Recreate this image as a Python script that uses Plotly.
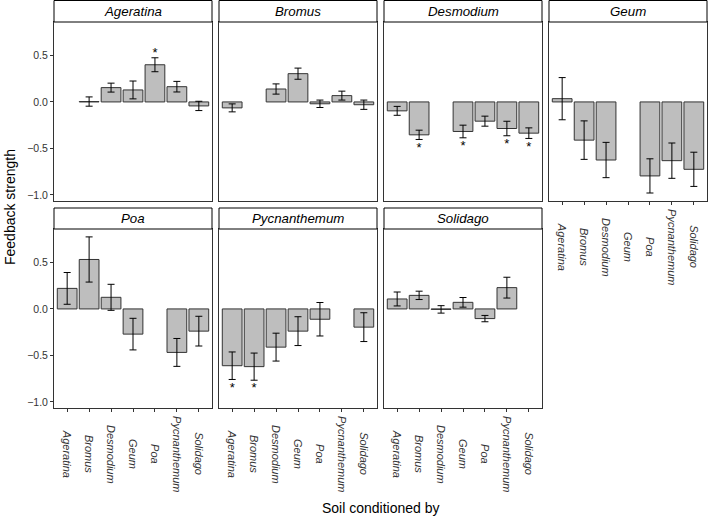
import plotly.graph_objects as go

# ---------------- data ----------------
soil_species = ["Ageratina", "Bromus", "Desmodium", "Geum", "Poa", "Pycnanthemum", "Solidago"]
panel_species = ["Ageratina", "Bromus", "Desmodium", "Geum", "Poa", "Pycnanthemum", "Solidago"]

ageratina_vals = [None, 0.004, 0.154, 0.129, 0.400, 0.164, -0.043]
ageratina_err = [None, 0.050, 0.048, 0.096, 0.075, 0.057, 0.050]
ageratina_sig = [0, 0, 0, 0, 1, 0, 0]

bromus_vals = [-0.064, None, 0.139, 0.304, -0.020, 0.068, -0.030]
bromus_err = [0.043, None, 0.055, 0.060, 0.040, 0.048, 0.050]
bromus_sig = [0, 0, 0, 0, 0, 0, 0]

desmodium_vals = [-0.096, -0.354, None, -0.318, -0.207, -0.286, -0.336]
desmodium_err = [0.048, 0.050, None, 0.068, 0.054, 0.078, 0.057]
desmodium_sig = [0, 1, 0, 1, 0, 1, 1]

geum_vals = [0.035, -0.411, -0.625, None, -0.796, -0.632, -0.725]
geum_err = [0.227, 0.207, 0.190, None, 0.184, 0.190, 0.184]
geum_sig = [0, 0, 0, 0, 1, 0, 0]

poa_vals = [0.221, 0.532, 0.125, -0.271, None, -0.468, -0.239]
poa_err = [0.171, 0.243, 0.140, 0.170, None, 0.150, 0.160]
poa_sig = [0, 0, 0, 0, 0, 0, 0]

pycnanthemum_vals = [-0.611, -0.621, -0.411, -0.239, -0.111, None, -0.196]
pycnanthemum_err = [0.148, 0.146, 0.150, 0.155, 0.180, None, 0.155]
pycnanthemum_sig = [1, 1, 0, 0, 0, 0, 0]

solidago_vals = [0.107, 0.146, -0.005, 0.071, -0.104, 0.229, None]
solidago_err = [0.075, 0.045, 0.040, 0.052, 0.034, 0.112, None]
solidago_sig = [0, 0, 0, 0, 0, 0, 0]

y_tick_vals = [-1.0, -0.5, 0.0, 0.5]

panels = [
    (ageratina_vals, ageratina_err, ageratina_sig),
    (bromus_vals, bromus_err, bromus_sig),
    (desmodium_vals, desmodium_err, desmodium_sig),
    (geum_vals, geum_err, geum_sig),
    (poa_vals, poa_err, poa_sig),
    (pycnanthemum_vals, pycnanthemum_err, pycnanthemum_sig),
    (solidago_vals, solidago_err, solidago_sig),
]

# ---------------- layout geometry (page pixels) ----------------
W, H = 709, 517
col_x = [(54, 212), (219, 377), (384, 542), (549, 707)]
row_y = [(22, 201), (229, 408)]
strip_y = [(0.5, 22), (208, 229)]
YR = [-1.066, 0.86]
FONT = "Liberation Sans, Arial, Helvetica, sans-serif"
px_per_unit = (row_y[0][1] - row_y[0][0]) / (YR[1] - YR[0])


def px(x):
    return x / W


def py(y):
    return 1 - y / H


fig = go.Figure()
layout = dict(
    width=W, height=H,
    margin=dict(l=0, r=0, t=0, b=0),
    paper_bgcolor="white", plot_bgcolor="white",
    showlegend=False, hovermode=False,
    font=dict(family=FONT, color="#333333"),
)
shapes = []
annotations = []

bottom_panels = {3, 4, 5, 6}

for i, (vals, errs, sig) in enumerate(panels):
    r, c = divmod(i, 4)
    suf = "" if i == 0 else str(i + 1)
    xa, ya = "x" + suf, "y" + suf

    fig.add_trace(go.Bar(
        x=soil_species, y=vals, width=0.9,
        marker=dict(color="#BEBEBE", line=dict(color="#333333", width=1)),
        error_y=dict(type="data", array=errs, visible=True, color="black",
                     thickness=1, width=3.5),
        xaxis=xa, yaxis=ya, hoverinfo="skip",
    ))

    # significance stars
    sx, sy = [], []
    for cat, v, e, s in zip(soil_species, vals, errs, sig):
        if s and v is not None:
            if v >= 0:
                sy.append(v + e + 4.5 / px_per_unit)
            else:
                sy.append(v - e - 9.0 / px_per_unit)
            sx.append(cat)
    if sx:
        fig.add_trace(go.Scatter(
            x=sx, y=sy, mode="text", text=["*"] * len(sx),
            textposition="middle center",
            textfont=dict(size=13, color="black", family=FONT),
            xaxis=xa, yaxis=ya, hoverinfo="skip", cliponaxis=False,
        ))

    x0, x1 = col_x[c]
    y0, y1 = row_y[r]
    is_bottom = i in bottom_panels
    layout["xaxis" + suf] = dict(
        domain=[px(x0), px(x1)], anchor=ya, type="category",
        categoryorder="array", categoryarray=soil_species,
        range=[-0.6, 6.6], showgrid=False, zeroline=False,
        showline=True, mirror=True, linecolor="#333333", linewidth=1,
        ticks="outside" if is_bottom else "", ticklen=3, tickcolor="#333333",
        showticklabels=False, fixedrange=True,
    )
    layout["yaxis" + suf] = dict(
        domain=[py(y1), py(y0)], anchor=xa, range=YR,
        showgrid=False, zeroline=False,
        showline=True, mirror=True, linecolor="#333333", linewidth=1,
        ticks="outside" if c == 0 else "", ticklen=3, tickcolor="#333333",
        tickvals=y_tick_vals, tickformat=".1f",
        showticklabels=(c == 0),
        tickfont=dict(size=10.5, color="#333333", family=FONT),
        fixedrange=True,
    )

    # strip
    sy0, sy1 = strip_y[r]
    shapes.append(dict(type="rect", xref="paper", yref="paper",
                       x0=px(x0), x1=px(x1), y0=py(sy1), y1=py(sy0),
                       fillcolor="white", line=dict(color="black", width=1)))
    annotations.append(dict(
        text=panel_species[i], xref="paper", yref="paper",
        x=px((x0 + x1) / 2), y=py((sy0 + sy1) / 2),
        xanchor="center", yanchor="middle", showarrow=False,
        font=dict(size=13.3, color="black", family=FONT, style="italic"),
    ))

    # x category labels (vertical, centred)
    if is_bottom:
        for cat in soil_species:
            annotations.append(dict(
                text=cat, xref=xa, yref="paper", x=cat, y=py(y1 + 46),
                xanchor="center", yanchor="middle", showarrow=False,
                textangle=90,
                font=dict(size=11, color="#333333", family=FONT, style="italic"),
            ))

# axis titles
annotations.append(dict(
    text="Feedback strength", xref="paper", yref="paper",
    x=px(10), y=py(207), xanchor="center", yanchor="middle",
    textangle=-90, showarrow=False,
    font=dict(size=14, color="black", family=FONT),
))
annotations.append(dict(
    text="Soil conditioned by", xref="paper", yref="paper",
    x=px(381), y=py(508), xanchor="center", yanchor="middle",
    showarrow=False, font=dict(size=14, color="black", family=FONT),
))

layout["shapes"] = shapes
layout["annotations"] = annotations
fig.update_layout(**layout)
fig.write_html(
    "out.html",
    config={"displayModeBar": False, "staticPlot": True},
    post_script="document.body.style.margin='0';document.body.style.overflow='hidden';",
)
